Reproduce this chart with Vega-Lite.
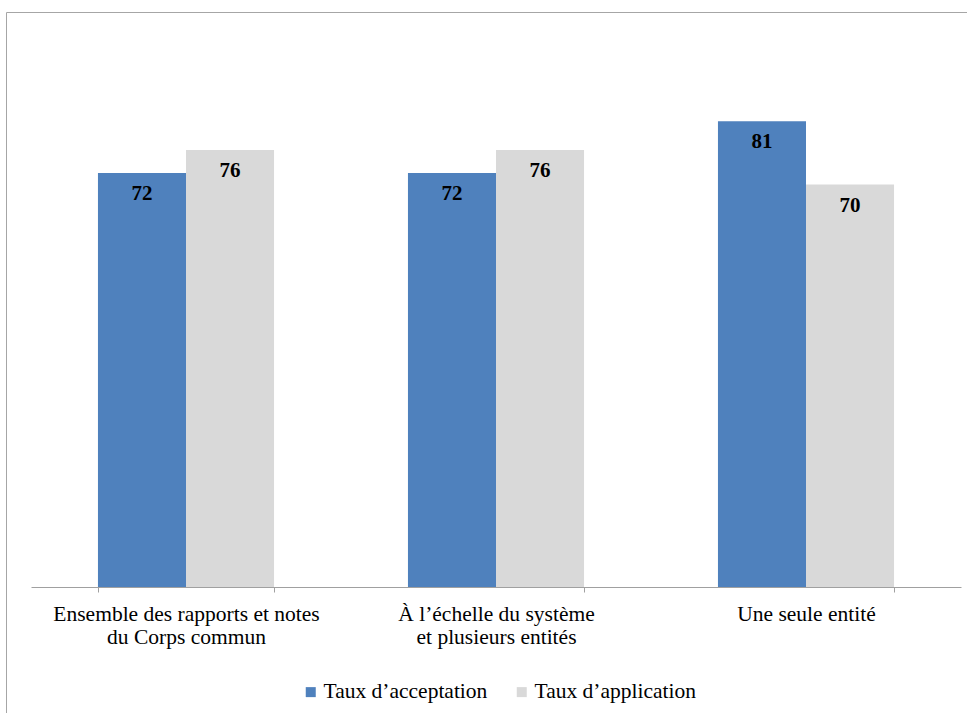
{
  "$schema": "https://vega.github.io/schema/vega-lite/v6.json",
  "autosize": "none",
  "width": 961,
  "height": 701,
  "padding": {"left": 6, "top": 12, "right": 0, "bottom": 0},
  "background": "white",
  "config": {
    "view": {"stroke": "#a6a6a6", "strokeWidth": 1},
    "font": "Liberation Serif"
  },
  "data": {
    "values": [
      {"cat": "Ensemble des rapports et notes|du Corps commun", "serie": "Taux d’acceptation", "val": 72},
      {"cat": "Ensemble des rapports et notes|du Corps commun", "serie": "Taux d’application", "val": 76},
      {"cat": "À l’échelle du système|et plusieurs entités", "serie": "Taux d’acceptation", "val": 72},
      {"cat": "À l’échelle du système|et plusieurs entités", "serie": "Taux d’application", "val": 76},
      {"cat": "Une seule entité", "serie": "Taux d’acceptation", "val": 81},
      {"cat": "Une seule entité", "serie": "Taux d’application", "val": 70}
    ]
  },
  "encoding": {
    "x": {
      "field": "cat", "type": "nominal", "sort": null, "title": null,
      "scale": {"range": [25, 955], "paddingInner": 0.432, "paddingOuter": 0.216},
      "axis": {
        "offset": -126, "tickBand": "extent", "labelAngle": 0,
        "labelExpr": "split(datum.label, '|')",
        "labelFont": "Liberation Serif", "labelFontSize": 21.5, "labelColor": "#000000",
        "labelLineHeight": 23, "labelPadding": 11, "labelBaseline": "top", "labelLimit": 500,
        "domainColor": "#a0a0a0", "tickColor": "#a0a0a0", "tickSize": 5, "grid": false
      }
    },
    "xOffset": {"field": "serie", "type": "nominal", "sort": null, "scale": {"paddingInner": 0}},
    "y": {
      "field": "val", "type": "quantitative",
      "scale": {"domain": [0, 100], "range": [575, 0], "nice": false},
      "axis": null
    }
  },
  "layer": [
    {
      "mark": {"type": "bar"},
      "encoding": {
        "color": {
          "field": "serie", "type": "nominal", "sort": null,
          "scale": {"domain": ["Taux d’acceptation", "Taux d’application"], "range": ["#4f81bd", "#d9d9d9"]},
          "legend": {
            "title": null, "orient": "none", "direction": "horizontal",
            "legendX": 294, "legendY": 669,
            "symbolType": "square", "symbolSize": 100, "symbolStrokeWidth": 0,
            "labelFont": "Liberation Serif", "labelFontSize": 21.5, "labelColor": "#000000",
            "columnPadding": 23, "labelOffset": 2, "labelLimit": 400
          }
        }
      }
    },
    {
      "mark": {"type": "text", "baseline": "middle", "dy": 21, "fontWeight": "bold", "fontSize": 21, "font": "Liberation Serif", "color": "#000000"},
      "encoding": {"text": {"field": "val", "type": "quantitative"}}
    }
  ]
}
